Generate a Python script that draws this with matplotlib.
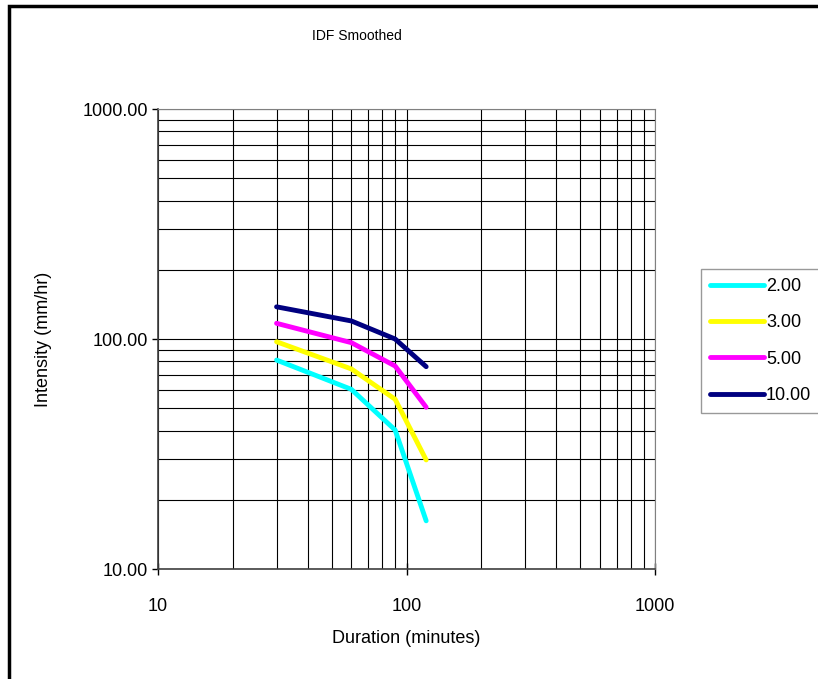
import matplotlib.pyplot as plt
from matplotlib.patches import Rectangle
from matplotlib.ticker import FixedLocator, LogLocator, NullFormatter

plt.rcParams['font.family'] = ['Liberation Sans', 'DejaVu Sans']

# durations (minutes) and return periods
duration = [30, 60, 90, 120]
return_periods = ['2.00', '3.00', '5.00', '10.00']
intensity_2 = [81, 60.4, 40.2, 16.2]
intensity_3 = [97.3, 74.1, 54.7, 29.8]
intensity_5 = [117, 96.4, 76.3, 50.5]
intensity_10 = [138, 119.8, 100, 75.8]
series = [intensity_2, intensity_3, intensity_5, intensity_10]
colors = ['#00FFFF', '#FFFF00', '#FF00FF', '#000080']

fig = plt.figure(figsize=(8.18, 6.79), dpi=100)
ax = fig.add_axes([158 / 818, 1 - 569 / 679, (655 - 158) / 818, (569 - 109) / 679])

for vals, lab, c in zip(series, return_periods, colors):
    ax.plot(duration, vals, color=c, lw=3.5, label=lab, solid_capstyle='round')

ax.set_xscale('log')
ax.set_yscale('log')
ax.set_xlim(10, 1000)
ax.set_ylim(10, 1000)

ax.xaxis.set_major_locator(FixedLocator([10, 100, 1000]))
ax.yaxis.set_major_locator(FixedLocator([10, 100, 1000]))
ax.xaxis.set_minor_locator(LogLocator(base=10, subs=range(2, 10)))
ax.yaxis.set_minor_locator(LogLocator(base=10, subs=range(2, 10)))
ax.xaxis.set_minor_formatter(NullFormatter())
ax.yaxis.set_minor_formatter(NullFormatter())
ax.set_xticklabels(['10', '100', '1000'])
ax.set_yticklabels(['10.00', '100.00', '1000.00'])

ax.grid(True, which='both', color='black', lw=0.8)
ax.set_axisbelow(True)
ax.tick_params(which='minor', length=0)
ax.tick_params(axis='y', which='major', direction='out', length=4, width=1, pad=3, labelsize=13)
ax.tick_params(axis='x', which='major', direction='inout', length=8, width=1, pad=17, labelsize=13)

for s in ['top', 'right']:
    ax.spines[s].set_color('#808080')
for s in ['left', 'bottom']:
    ax.spines[s].set_color('#404040')
    ax.spines[s].set_linewidth(1.2)

ax.set_xlabel('Duration (minutes)', fontsize=13, labelpad=11)
ax.set_ylabel('Intensity (mm/hr)', fontsize=13, labelpad=22)
fig.text(357 / 818, 1 - 36 / 679, 'IDF Smoothed', ha='center', va='center', fontsize=10)

leg = fig.legend(loc='upper left', bbox_to_anchor=(701 / 818, 1 - 269 / 679),
                 fontsize=13, frameon=True, fancybox=False, handlelength=3.0,
                 handletextpad=0.1, labelspacing=1.07, borderaxespad=0, borderpad=0.5)
leg.get_frame().set_edgecolor('#808080')
leg.get_frame().set_linewidth(1.0)

# outer chart border (left and top edges visible, rest cropped)
fig.patches.append(Rectangle((9 / 818, -0.5), 2, 0.5 + 1 - 6 / 679, transform=fig.transFigure,
                             fill=False, lw=2.5, edgecolor='black'))

fig.savefig('out.png', dpi=100)
